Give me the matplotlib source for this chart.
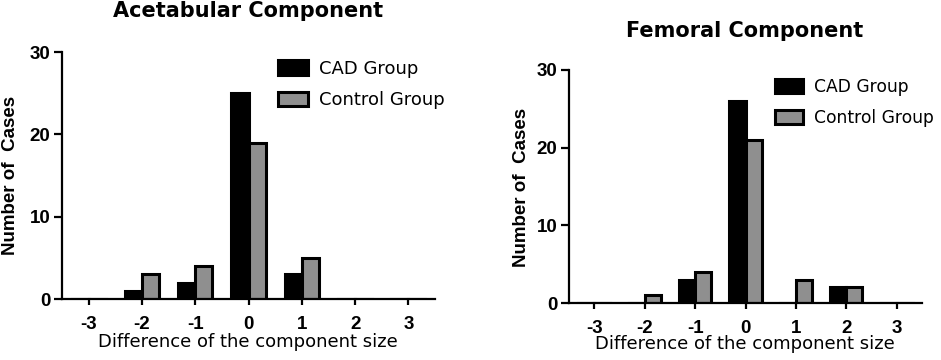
import matplotlib
matplotlib.use("Agg")
import matplotlib.pyplot as plt
import numpy as np

plt.rcParams['font.family'] = ['Liberation Sans', 'DejaVu Sans']

diffs = [-3, -2, -1, 0, 1, 2, 3]
acet_cad = [0, 1, 2, 25, 3, 0, 0]
acet_control = [0, 3, 4, 19, 5, 0, 0]
fem_cad = [0, 0, 3, 26, 0, 2, 0]
fem_control = [0, 1, 4, 21, 3, 2, 0]
y_ticks = [0, 10, 20, 30]
titles = ["Acetabular Component", "Femoral Component"]
series_labels = ["CAD Group", "Control Group"]
y_label = "Number of  Cases"
x_label = "Difference of the component size"

cad_color = "black"
ctrl_color = "#8f8f8f"

W, H = 941, 360
fig = plt.figure(figsize=(W / 100, H / 100), dpi=100)

def px_axes(l, t, r, b):
    return fig.add_axes([l / W, 1 - b / H, (r - l) / W, (b - t) / H])

ax1 = px_axes(62, 52, 435, 299)
ax2 = px_axes(569, 70, 922, 303)

def draw(ax, cad, ctrl, title, title_xy, ylab_xy, xlab_xy, leg_anchor, leg_size):
    x = np.array(diffs, dtype=float)
    w = 0.32
    ax.bar(x - w / 2, cad, width=w, color=cad_color, edgecolor="black",
           linewidth=2.2, label=series_labels[0], zorder=3, capstyle="projecting")
    ax.bar(x + w / 2, ctrl, width=w, color=ctrl_color, edgecolor="black",
           linewidth=2.2, label=series_labels[1], zorder=3, capstyle="projecting")
    ax.set_xlim(-3.5, 3.5)
    ax.set_ylim(0, 30)
    ax.set_xticks(diffs)
    ax.set_xticklabels([str(d) for d in diffs])
    ax.set_yticks(y_ticks)
    for s in ["top", "right"]:
        ax.spines[s].set_visible(False)
    for s in ["left", "bottom"]:
        ax.spines[s].set_linewidth(1.6)
    ax.spines["bottom"].set_zorder(4)
    ax.tick_params(axis="both", width=1.6, direction="out", labelsize=13.5)
    ax.tick_params(axis="x", pad=7.5, length=4.5)
    ax.tick_params(axis="y", pad=2.5, length=6)
    for lab in ax.get_xticklabels() + ax.get_yticklabels():
        lab.set_fontweight("bold")
    fig.text(title_xy[0] / W, 1 - title_xy[1] / H, title, fontsize=15,
             fontweight="bold", family="DejaVu Sans", ha="center", va="center")
    fig.text(ylab_xy[0] / W, 1 - ylab_xy[1] / H, y_label, fontsize=13.5,
             fontweight="bold", rotation=90, ha="center", va="center")
    fig.text(xlab_xy[0] / W, 1 - xlab_xy[1] / H, x_label, fontsize=13,
             family="DejaVu Sans", ha="center", va="center")
    ax.legend(loc="upper left", bbox_to_anchor=leg_anchor, frameon=False,
              prop={"family": "DejaVu Sans", "size": leg_size},
              handlelength=1.65, handleheight=0.85, borderpad=0, borderaxespad=0,
              labelspacing=0.75, handletextpad=0.65)

draw(ax1, acet_cad, acet_control, titles[0], (248, 11), (11, 175), (248, 342),
     (0.579, 0.968), 13)
draw(ax2, fem_cad, fem_control, titles[1], (745, 31), (521, 187), (745, 344),
     (0.584, 0.966), 12.3)

fig.savefig("out.png", dpi=100)
